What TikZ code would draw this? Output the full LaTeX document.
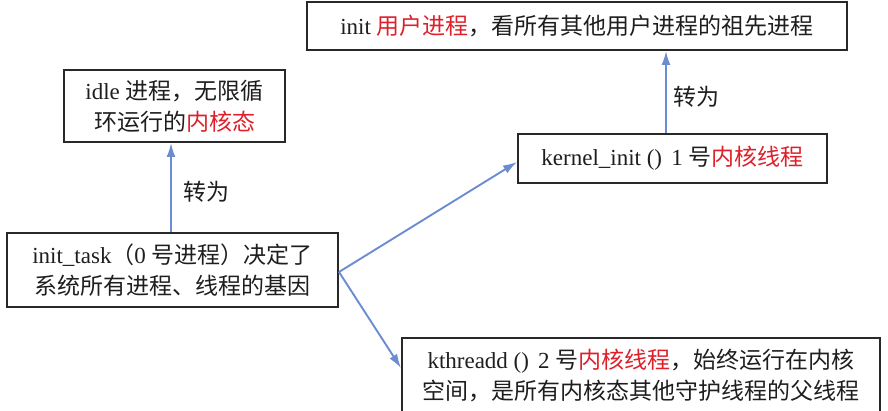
\documentclass[tikz,border=0pt]{standalone}
\usepackage{fontspec}
\setmainfont{Liberation Serif}
\newfontfamily\cjkf{Noto Sans CJK SC}
\newcommand\zhs[1]{{\cjkf #1}}
\usetikzlibrary{arrows.meta}
\definecolor{boxc}{RGB}{40,40,40}
\definecolor{txtc}{RGB}{30,30,30}
\definecolor{redc}{RGB}{222,32,42}
\definecolor{arrc}{RGB}{108,140,210}
\begin{document}
\begin{tikzpicture}[x=1pt,y=-1pt,
  box/.style={draw=boxc, line width=2pt, rectangle, inner sep=0pt, align=center,
    text=txtc, font=\fontsize{23}{31}\selectfont},
  lbl/.style={inner sep=0pt, text=txtc, font=\fontsize{23}{31}\selectfont},
  conn/.style={draw=arrc, line width=1.9pt, -{Latex[length=14pt,width=9pt]}}]
\useasboundingbox (0,0) rectangle (888,411);
\clip (0,0) rectangle (888,411);
\node[box, minimum width=540pt, minimum height=48pt] (ini) at (577,26)
  {init \textcolor{redc}{\zhs{用户进程}}\zhs{，看所有其他用户进程的祖先进程}};
\node[box, minimum width=221pt, minimum height=72pt] (idle) at (174.5,106)
  {idle \zhs{进程，无限循}\\\zhs{环运行的}\textcolor{redc}{\zhs{内核态}}};
\node[box, minimum width=331pt, minimum height=74pt] (it) at (172.5,270)
  {init\_task\zhs{（}0 \zhs{号进程）决定了}\\\zhs{系统所有进程、线程的基因}};
\node[box, minimum width=309pt, minimum height=49pt] (ki) at (672.5,158.5)
  {kernel\_init ()\hspace{0.4em}1 \zhs{号}\textcolor{redc}{\zhs{内核线程}}};
\node[box, minimum width=478pt, minimum height=75pt] (kt) at (641,375.5)
  {kthreadd ()\hspace{0.4em}2 \zhs{号}\textcolor{redc}{\zhs{内核线程}}\zhs{，始终运行在内核}\\\zhs{空间，是所有内核态其他守护线程的父线程}};
\node[lbl] (l1) at (206,192) {\zhs{转为}};
\node[lbl] (l2) at (696,97) {\zhs{转为}};
\draw[conn] ([xshift=-1.5pt]it.north) -- ([xshift=-1.5pt]it.north |- idle.south);
\draw[conn] ([xshift=-6.5pt]ki.north) -- ([xshift=-6.5pt]ki.north |- ini.south);
\draw[conn] ([yshift=-2pt]it.east) -- ([yshift=-3.5pt]ki.west);
\draw[conn] ([yshift=-2pt]it.east) -- ([yshift=7.5pt]kt.west);
\end{tikzpicture}
\end{document}
